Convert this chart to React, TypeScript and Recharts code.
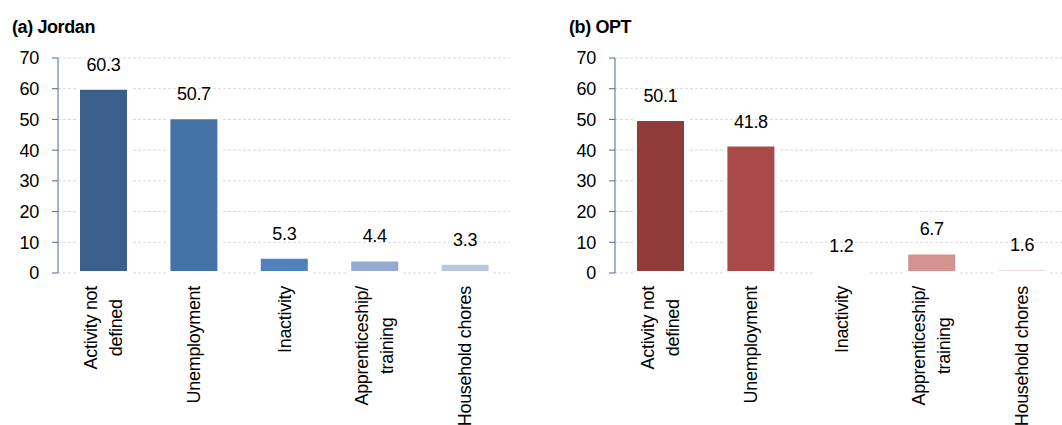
import { BarChart, Bar, Cell, XAxis, YAxis, CartesianGrid, LabelList } from "recharts";

const CATEGORIES = ["Activity not\ndefined", "Unemployment", "Inactivity", "Apprenticeship/\ntraining", "Household chores"];
const JORDAN = [60.3, 50.7, 5.3, 4.4, 3.3];
const OPT = [50.1, 41.8, 1.2, 6.7, 1.6];
const Y_TICKS = [0, 10, 20, 30, 40, 50, 60, 70];

const JORDAN_COLORS = ["#3b5e8c", "#4572a7", "#4f81bd", "#95a9d2", "#bac6e0"];
const OPT_COLORS = ["#8e3b3a", "#aa4a48", "#ffffff", "#d49291", "#f1dcdb"];

const FONT = "'Liberation Sans', Arial, sans-serif";
const FS = 18;
const LS = -0.3;
const AXIS_COLOR = "#4f6a8f";

let ctx: CanvasRenderingContext2D | null = null;
function textWidth(s: string) {
  if (!ctx) ctx = document.createElement("canvas").getContext("2d");
  if (!ctx) return s.length * 9;
  ctx.font = `${FS}px ${FONT}`;
  return ctx.measureText(s).width + s.length * LS;
}

function CategoryTick(props: any) {
  const { x, y, payload } = props;
  const lines = String(payload.value).split("\n");
  const maxW = Math.max(...lines.map(textWidth));
  const gap = 13;
  const lh = 25;
  const first = 6.5 - ((lines.length - 1) * lh) / 2;
  return (
    <g transform={`translate(${x},${y})`}>
      <text
        transform="rotate(-90)"
        textAnchor="middle"
        fontSize={FS}
        fontFamily={FONT}
        letterSpacing={LS}
        fill="#000"
      >
        {lines.map((l, i) => (
          <tspan key={i} x={-(gap + maxW / 2)} y={first + i * lh}>
            {l}
          </tspan>
        ))}
      </text>
    </g>
  );
}

type PanelProps = {
  title: string;
  values: number[];
  colors: string[];
  left: number;
  width: number;
  right: number;
};

function Panel({ title, values, colors, left, width, right }: PanelProps) {
  const data = CATEGORIES.map((name, i) => ({ name, value: values[i] }));
  return (
    <div style={{ position: "absolute", left, top: 0, width, height: 425 }}>
      <div
        style={{
          position: "absolute",
          left: 12,
          top: 19,
          fontFamily: FONT,
          fontWeight: "bold",
          fontSize: 18,
          letterSpacing: -0.4,
          lineHeight: "17px",
          whiteSpace: "nowrap",
          color: "#000",
        }}
      >
        {title}
      </div>
      <BarChart width={width} height={425} data={data} margin={{ top: 58, right, bottom: 0, left: 0 }}>
        <CartesianGrid vertical={false} stroke="#d9d9d9" strokeDasharray="3 2" />
        <XAxis
          dataKey="name"
          interval={0}
          height={152}
          axisLine={false}
          tickLine={false}
          tickSize={0}
          tickMargin={0}
          tick={(p: any) => <CategoryTick {...p} />}
        />
        <YAxis
          width={58}
          domain={[0, 70]}
          ticks={Y_TICKS}
          interval={0}
          axisLine={{ stroke: AXIS_COLOR }}
          tickLine={{ stroke: AXIS_COLOR }}
          tickSize={6}
          tickMargin={13}
          tick={{ fontSize: FS, fontFamily: FONT, fill: "#000", letterSpacing: LS }}
        />
        <Bar dataKey="value" barSize={51} stroke="#fff" strokeWidth={4} isAnimationActive={false}>
          {data.map((d, i) => (
            <Cell key={d.name} fill={colors[i]} />
          ))}
          <LabelList
            dataKey="value"
            position="top"
            offset={17}
            fontSize={FS}
            fontFamily={FONT}
            letterSpacing={LS}
            fill="#000"
            formatter={(v: any) => Number(v).toFixed(1)}
          />
        </Bar>
      </BarChart>
    </div>
  );
}

export default function App() {
  return (
    <div
      style={{
        position: "absolute",
        left: 0,
        top: 0,
        width: 1062,
        height: 425,
        overflow: "hidden",
        background: "#fff",
      }}
    >
      <Panel title="(a) Jordan" values={JORDAN} colors={JORDAN_COLORS} left={0} width={530} right={20} />
      <Panel title="(b) OPT" values={OPT} colors={OPT_COLORS} left={557} width={510} right={0} />
    </div>
  );
}
